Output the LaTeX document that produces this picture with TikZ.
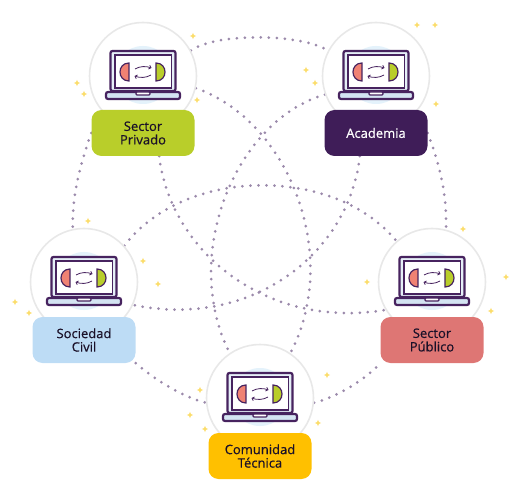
\documentclass[tikz,border=0pt]{standalone}
\usepackage{fontspec}
\setmainfont{Open Sans}[AutoFakeBold=0.5]
\definecolor{redLime}   {RGB}{185, 206,  42}
\definecolor{redPlum}   {RGB}{ 63,  29,  88}
\definecolor{redSky}    {RGB}{189, 220, 245}
\definecolor{redCoral}  {RGB}{222, 118, 116}
\definecolor{redAmber}  {RGB}{255, 192,   0}
\definecolor{redDot}    {RGB}{155, 138, 171}
\definecolor{redLine}   {RGB}{ 71,  35,  95}
\definecolor{redSalmon} {RGB}{240, 130, 115}
\definecolor{redGlow}   {RGB}{228, 242, 251}
\definecolor{redBase}   {RGB}{212, 228, 242}
\definecolor{redStar}   {RGB}{251, 221, 107}
\definecolor{redInk}    {RGB}{ 26,  16,  40}
\usetikzlibrary{
  arrows.meta,
  backgrounds,
}

\tikzset{
  laptop/.pic={
    \fill[redGlow] (0,-1) circle (29pt);
    \draw[redLine, line width=2.2pt, fill=redBase!60, rounded corners=2pt] (-32.5,-25) rectangle (32.5,15);
    \draw[redLine, line width=1.6pt, fill=white] (-28,-21) rectangle (28.5,12);
    \draw[redLine, line width=2.2pt, fill=redBase, rounded corners=2pt] (-37,16) rectangle (37,23);
    \draw[redLine, line width=1.2pt, fill=white, rounded corners=1pt] (-7,16) rectangle (7,19);
    \draw[redLine, line width=1.2pt, fill=redSalmon] (-14,-13) .. controls (-26,-13) and (-26,5) .. (-14,5) -- cycle;
    \draw[redLine, line width=1.2pt, fill=redLime] (13,-13) .. controls (25,-13) and (25,5) .. (13,5) -- cycle;
    \draw[redLine, line width=0.8pt, -{Straight Barb[length=2pt,width=4pt]}] (-8,-7) .. controls (-3,-10) and (3,-10) .. (8.5,-8);
    \draw[redLine, line width=0.8pt, -{Straight Barb[length=2pt,width=4pt]}] (8,-1) .. controls (3,2) and (-3,2) .. (-8.5,0);
  },
  sparkle/.pic={
    \fill[redStar] (0,-3.2) -- (0.9,-0.9) -- (3.2,0) -- (0.9,0.9) -- (0,3.2) -- (-0.9,0.9) -- (-3.2,0) -- (-0.9,-0.9) -- cycle;
  },
}

\begin{document}
\begin{tikzpicture}[
  x=1pt, y=-1pt,
  hub/.style={circle, draw=black!9, line width=1.6pt, fill=white,
              minimum size=107pt, inner sep=0pt},
  tag/.style={rounded corners=10pt, minimum width=103pt, minimum height=46pt,
              inner sep=0pt, align=center, text=redInk,
              font=\fontsize{13}{13.5}\selectfont\bfseries},
  link/.style={draw=redDot, line width=3pt, line cap=round,
               dash pattern=on 0pt off 8pt},
]
  \useasboundingbox (0,0) rectangle (520,500);

  % Five hubs, each with its laptop
  \node[hub] (privado)   at (143, 76) {};
  \node[hub] (academia)  at (376, 76) {};
  \node[hub] (sociedad)  at ( 84,282) {};
  \node[hub] (publico)   at (432,282) {};
  \node[hub] (comunidad) at (260,398) {};

  \foreach \hubname in {privado,academia,sociedad,publico,comunidad}
    \pic at (\hubname) {laptop};

  % Labels sit over the bottom of each hub
  \node[tag, fill=redLime]             (privadotag)   at (143,133) {Sector\\Privado};
  \node[tag, fill=redPlum, text=white] (academiatag)  at (376,133) {Academia};
  \node[tag, fill=redSky]              (sociedadtag)  at ( 84,340) {Sociedad\\Civil};
  \node[tag, fill=redCoral]            (publicotag)   at (432,340) {Sector\\Público};
  \node[tag, fill=redAmber]            (comunidadtag) at (260,456) {Comunidad\\Técnica};

  % Dotted links run behind everything
  \begin{scope}[on background layer]
    % outer ring
    \draw[link] (privado.28) .. controls (215,33) and (300,33) .. (academia.152);
    \draw[link] (privadotag.west) .. controls (80,165) and (72,195) .. (sociedad.102);
    \draw[link] (academiatag.east) .. controls (440,165) and (447,195) .. (publico.75);
    \draw[link] (sociedadtag.south east) .. controls (155,380) and (185,398) .. (comunidad.185);
    \draw[link] (comunidad.-5) .. controls (335,398) and (365,380) .. (publicotag.south west);
    % inner star
    \draw[link] (privado.-13) .. controls (288,120) and (342,255) .. (comunidad.56);
    \draw[link] (academia.200) .. controls (236,120) and (180,255) .. (comunidad.124);
    \draw[link] (privadotag.-55) .. controls (170,250) and (265,330) .. (publico.211);
    \draw[link] (academiatag.235) .. controls (350,250) and (255,330) .. (sociedad.-25);
    \draw[link] (sociedad.42) .. controls (185,166) and (335,166) .. (publico.131);
  \end{scope}

  % Little yellow sparkles
  \foreach \sx/\sy in {193/36, 197/100, 77/83, 84/94,
                       417/25, 435/25, 306/70, 315/83, 436/104,
                       88/221, 143/261, 158/284, 15/302, 29/313,
                       463/229, 367/282, 506/277, 491/311,
                       200/390, 205/429, 190/415, 327/375, 318/423}
    \pic at (\sx,\sy) {sparkle};
\end{tikzpicture}
\end{document}
